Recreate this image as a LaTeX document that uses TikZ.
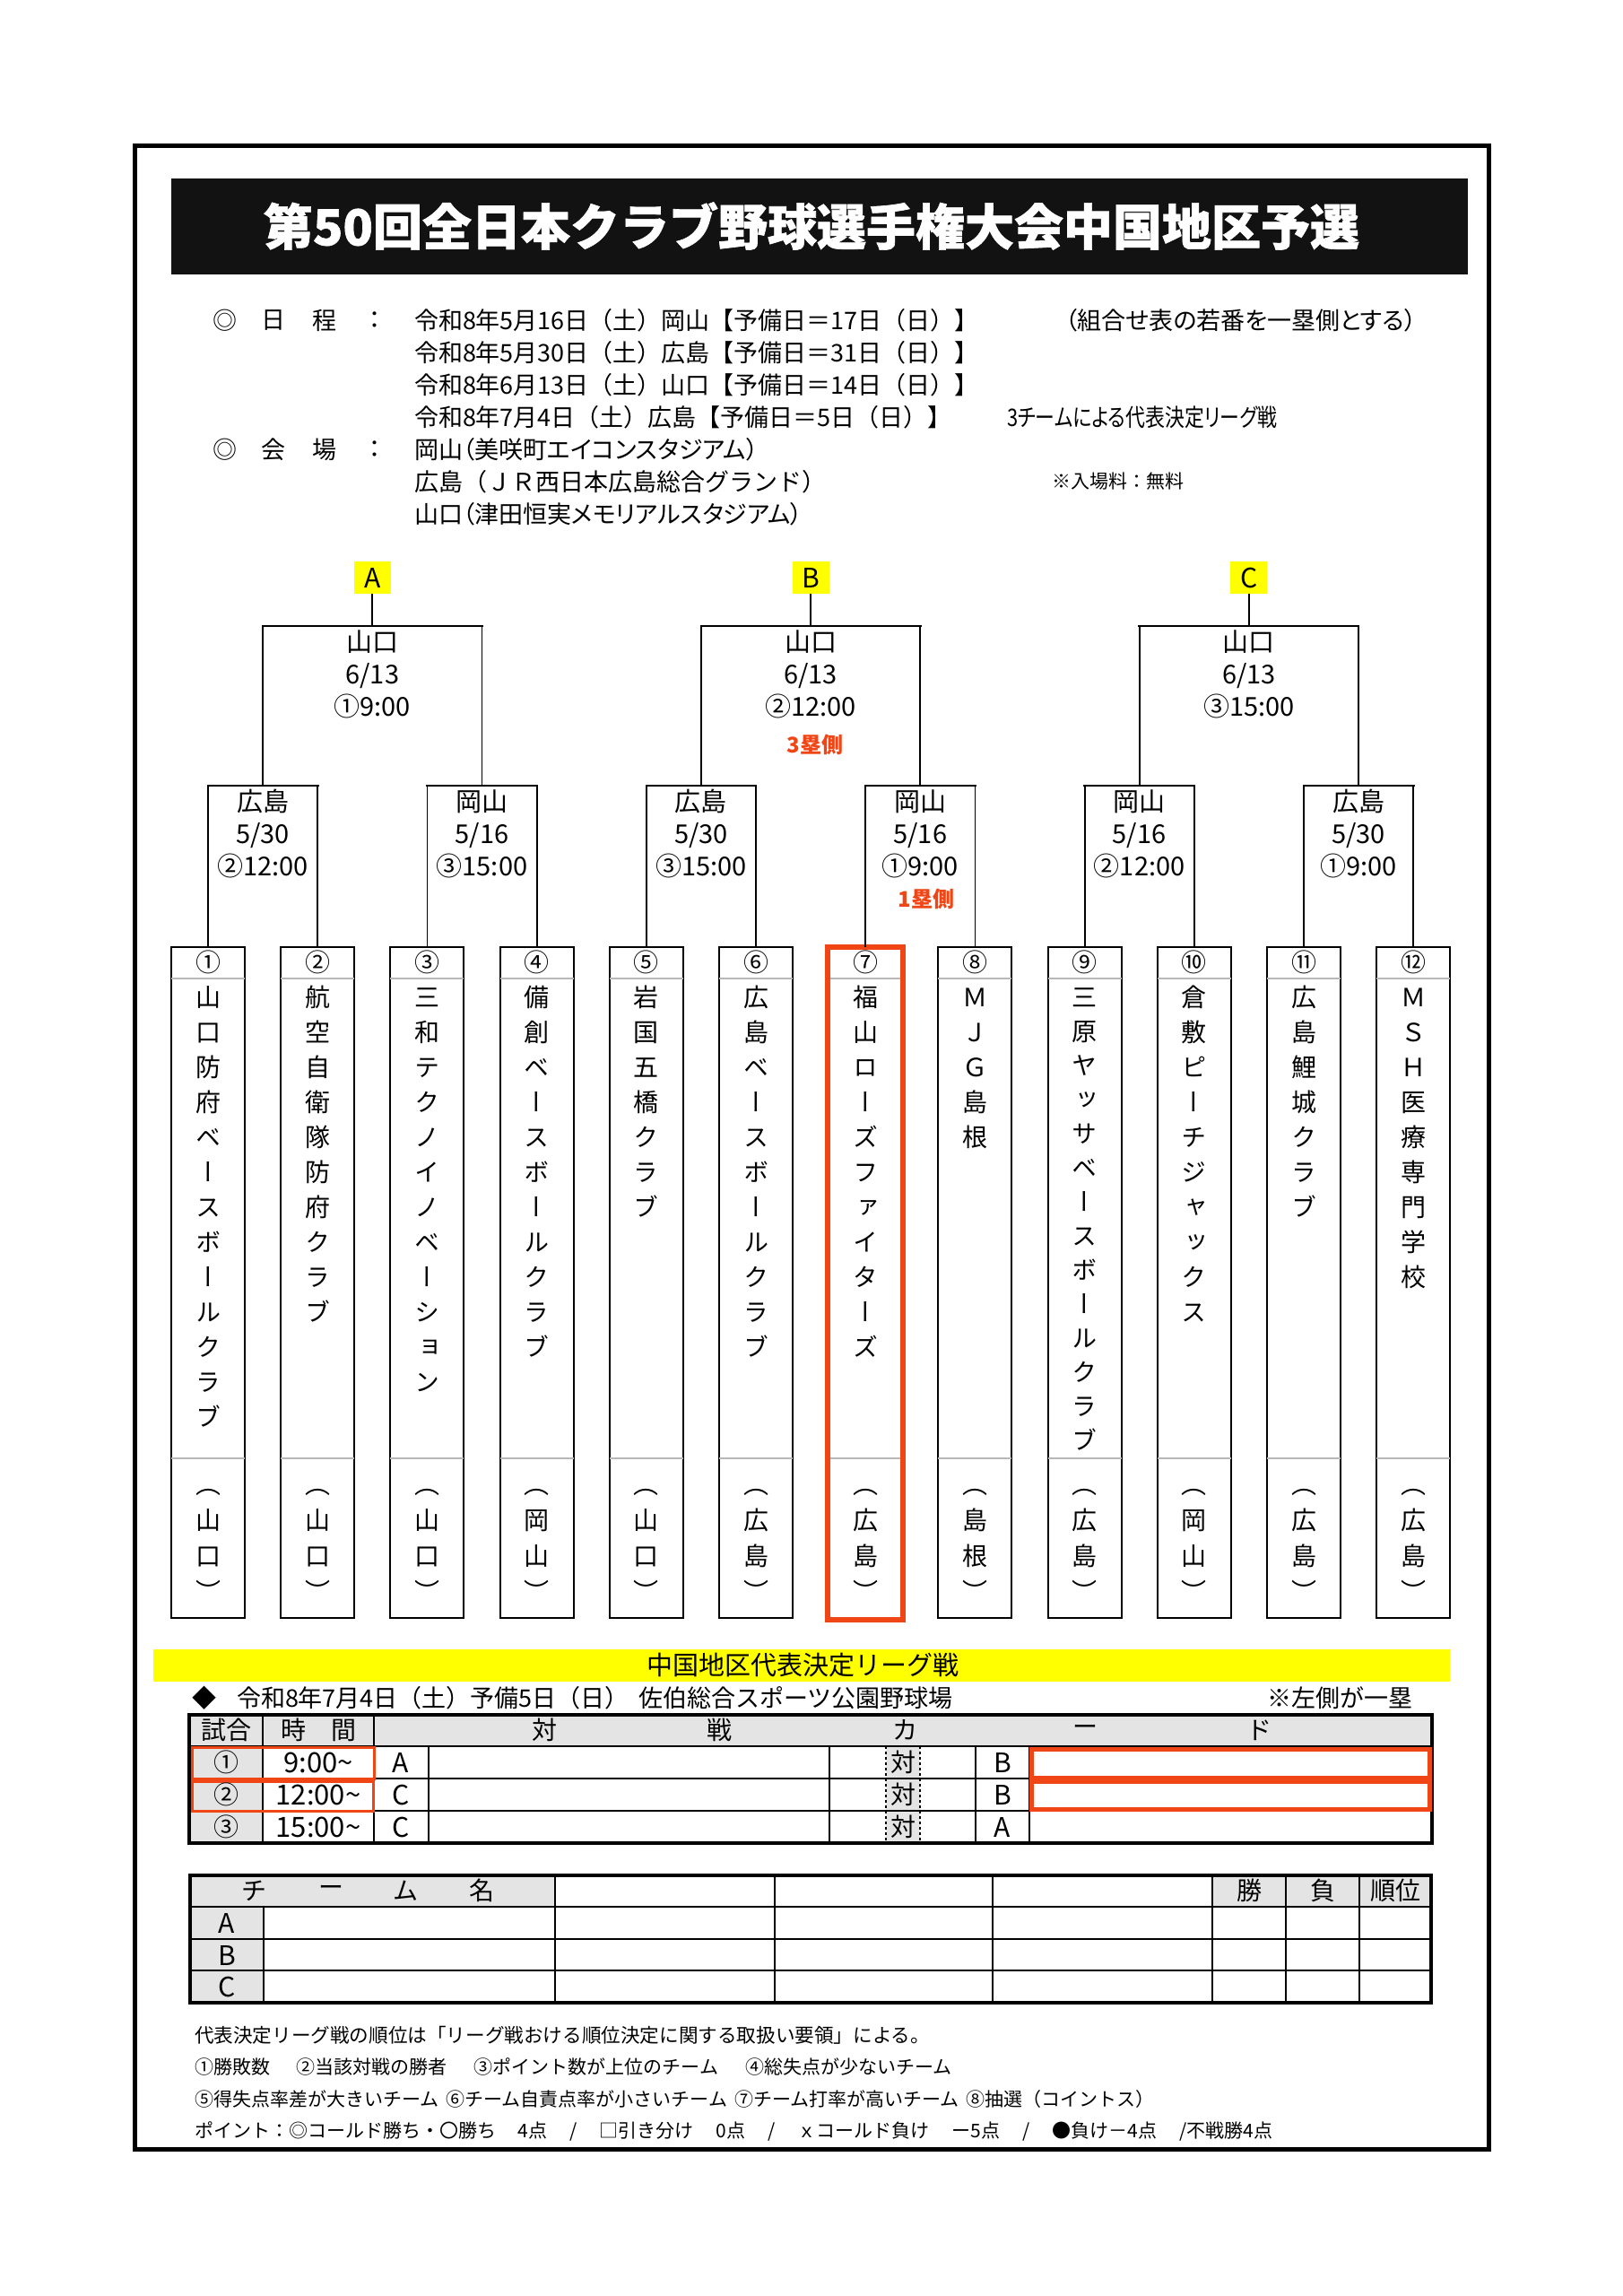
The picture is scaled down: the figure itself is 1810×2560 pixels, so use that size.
\documentclass[tikz,border=0pt]{standalone}
\usepackage{fontspec}
\setmainfont{Noto Sans CJK JP}
\newfontfamily\vjp[RawFeature=+vert]{Noto Sans CJK JP}
\newfontfamily\pjp[RawFeature=+palt]{Noto Sans CJK JP}
\newfontfamily\ttlfont[BoldFeatures={FakeBold=1.2}]{Noto Sans CJK JP}
\usetikzlibrary{calc}
\newcommand\fsz[1]{\fontsize{#1}{#1}\selectfont}
\definecolor{redo}{RGB}{240,70,22}
\definecolor{lgray}{RGB}{228,228,228}
\definecolor{yel}{RGB}{255,255,0}
\newcommand\vcol[5]{\foreach \ch [count=\k from 0] in {#5}{\node[vch] (#1-\k) at ({#2},{#3+\k*#4}) {\ch};}}
\newcommand\btx[5]{\node[btxt] (#1a) at ($(#2)+(0,17)$) {#3};\node[btxt] (#1b) at ($(#2)+(0,53)$) {#4};\node[btxt] (#1c) at ($(#2)+(0,89)$) {#5};}
\newcommand\gp{\hspace{25pt}}
\newcommand\gq{\hspace{30pt}}
\begin{document}
\begin{tikzpicture}[x=1pt,y=-1pt,
  every node/.style={inner sep=0pt,outer sep=0pt},
  txt/.style={font=\fsz{27}},
  ptxt/.style={font=\pjp\fsz{27}},
  btxt/.style={font=\fsz{29},text height=25.5pt,text depth=3.5pt},
  redtxt/.style={font=\bfseries\fsz{24},text=redo},
  lab/.style={fill=yel,minimum width=41pt,minimum height=36pt,font=\fsz{30}},
  hl/.style={line width=2.6pt,line cap=rect},
  vl/.style={line width=1.8pt},
  teambox/.style={draw,line width=2pt,minimum width=82pt,minimum height=748pt,anchor=north},
  redbox/.style={draw=redo,line width=6pt,minimum width=84pt,minimum height=750pt,anchor=north},
  sepl/.style={draw=black!28,line width=1.2pt},
  vch/.style={font=\vjp\fsz{28},text height=24.6pt,text depth=3.4pt},
  numc/.style={font=\fsz{28}},
  cell/.style={font=\fsz{28}},
  rowl/.style={line width=2.6pt},
  coll/.style={line width=1.6pt},
  note/.style={font=\fsz{21},anchor=west}]
\useasboundingbox (0,0) rectangle (1810,2560);
\fill[white] (0,0) rectangle (1810,2560);
\node[draw,line width=5pt,minimum width=1510pt,minimum height=2234pt] (frame) at (905,1279) {};
\node[fill=black!93,minimum width=1446pt,minimum height=107pt] (tbox) at (914,252) {};
\node[font=\ttlfont\bfseries\fsz{55},text=white] (title) at (905,252) {第50回全日本クラブ野球選手権大会中国地区予選};
% schedule
\foreach \nm/\x/\y/\t in {d1/251/357/◎,d2/305/357/日,d3/362/357/程,d4/418/357/：,v1/251/501/◎,v2/305/501/会,v3/362/501/場,v4/418/501/：}{\node[txt] (\nm) at (\x,\y) {\t};}
\node[txt,anchor=west] (s1) at (462,357) {令和8年5月16日（土）岡山【予備日＝17日（日）】};
\node[txt,anchor=west] (s2) at (462,393) {令和8年5月30日（土）広島【予備日＝31日（日）】};
\node[txt,anchor=west] (s3) at (462,429) {令和8年6月13日（土）山口【予備日＝14日（日）】};
\node[txt,anchor=west] (s4) at (462,465) {令和8年7月4日（土）広島【予備日＝5日（日）】};
\node[ptxt,anchor=west] (s4b) at (1123,465) {\scalebox{0.81}[1]{3チームによる代表決定リーグ戦}};
\node[ptxt,anchor=west] (s1b) at (1188,357) {（組合せ表の若番を一塁側とする）};
\node[ptxt,anchor=west] (p1) at (462,501) {岡山（美咲町エイコンスタジアム）};
\node[txt,anchor=west] (p2) at (462,537) {広島（ＪＲ西日本広島総合グランド）};
\node[ptxt,anchor=west] (p3) at (462,573) {山口（津田恒実メモリアルスタジアム）};
\node[font=\fsz{21},anchor=west] (fee) at (1173,537) {※入場料：無料};
% team boxes
\foreach \i/\c in {1/①,2/②,3/③,4/④,5/⑤,6/⑥,7/⑦,8/⑧,9/⑨,10/⑩,11/⑪,12/⑫}{
  \node[teambox] (t\i) at ({232+122.2*(\i-1)},1056) {};
  \draw[sepl] ([yshift=-35pt]t\i.north west) -- ([yshift=-35pt]t\i.north east);
  \draw[sepl] ([yshift=-570pt]t\i.north west) -- ([yshift=-570pt]t\i.north east);
  \node[numc] (n\i) at ({232+122.2*(\i-1)},1073) {\c};
}
\node[redbox] (r7) at (t7.north) {};
% team names
\vcol{a1}{232}{1112}{39}{山,口,防,府,ベ,ー,ス,ボ,ー,ル,ク,ラ,ブ}
\vcol{a2}{354.2}{1112}{39}{航,空,自,衛,隊,防,府,ク,ラ,ブ}
\vcol{a3}{476.4}{1112}{39}{三,和,テ,ク,ノ,イ,ノ,ベ,ー,シ,ョ,ン}
\vcol{a4}{598.6}{1112}{39}{備,創,ベ,ー,ス,ボ,ー,ル,ク,ラ,ブ}
\vcol{a5}{720.8}{1112}{39}{岩,国,五,橋,ク,ラ,ブ}
\vcol{a6}{843}{1112}{39}{広,島,ベ,ー,ス,ボ,ー,ル,ク,ラ,ブ}
\vcol{a7}{965.2}{1112}{39}{福,山,ロ,ー,ズ,フ,ァ,イ,タ,ー,ズ}
\vcol{a8}{1087.4}{1112}{39}{Ｍ,Ｊ,Ｇ,島,根}
\vcol{a9}{1209.6}{1112}{38}{三,原,ヤ,ッ,サ,ベ,ー,ス,ボ,ー,ル,ク,ラ,ブ}
\vcol{a10}{1331.8}{1112}{39}{倉,敷,ピ,ー,チ,ジ,ャ,ッ,ク,ス}
\vcol{a11}{1454}{1112}{39}{広,島,鯉,城,ク,ラ,ブ}
\vcol{a12}{1576.2}{1112}{39}{Ｍ,Ｓ,Ｈ,医,療,専,門,学,校}
\vcol{b1}{232}{1655}{40}{（,山,口,）}
\vcol{b2}{354.2}{1655}{40}{（,山,口,）}
\vcol{b3}{476.4}{1655}{40}{（,山,口,）}
\vcol{b4}{598.6}{1655}{40}{（,岡,山,）}
\vcol{b5}{720.8}{1655}{40}{（,山,口,）}
\vcol{b6}{843}{1655}{40}{（,広,島,）}
\vcol{b7}{965.2}{1655}{40}{（,広,島,）}
\vcol{b8}{1087.4}{1655}{40}{（,島,根,）}
\vcol{b9}{1209.6}{1655}{40}{（,広,島,）}
\vcol{b10}{1331.8}{1655}{40}{（,岡,山,）}
\vcol{b11}{1454}{1655}{40}{（,広,島,）}
\vcol{b12}{1576.2}{1655}{40}{（,広,島,）}
% lower brackets
\foreach \a/\b/\m in {1/2/1,3/4/2,5/6/3,7/8/4,9/10/5,11/12/6}{
  \coordinate (h\m) at ($(t\a.north)!0.5!(t\b.north)+(0,-180)$);
  \draw[vl] (t\a.north) -- (t\a.north |- h\m);
  \draw[vl] (t\b.north) -- (t\b.north |- h\m);
  \draw[hl] (t\a.north |- h\m) -- (t\b.north |- h\m);
}
% upper brackets
\foreach \L/\a/\b in {A/1/2,B/3/4,C/5/6}{
  \coordinate (g\L) at ($(h\a)!0.5!(h\b)+(0,-178)$);
  \node[lab] (l\L) at ($(h\a)!0.5!(h\b)+(0,-232)$) {\L};
  \draw[vl] (h\a) -- (h\a |- g\L);
  \draw[vl] (h\b) -- (h\b |- g\L);
  \draw[hl] (h\a |- g\L) -- (h\b |- g\L);
  \draw[vl] (l\L.south) -- (g\L);
}
\btx{ga}{gA}{山口}{6/13}{①9:00}
\btx{gb}{gB}{山口}{6/13}{②12:00}
\btx{gc}{gC}{山口}{6/13}{③15:00}
\btx{ha}{h1}{広島}{5/30}{②12:00}
\btx{hb}{h2}{岡山}{5/16}{③15:00}
\btx{hc}{h3}{広島}{5/30}{③15:00}
\btx{hd}{h4}{岡山}{5/16}{①9:00}
\btx{he}{h5}{岡山}{5/16}{②12:00}
\btx{hf}{h6}{広島}{5/30}{①9:00}
\node[redtxt] (r3) at (909,830) {3塁側};
\node[redtxt] (r1) at (1033,1002) {1塁側};
% league banner
\node[fill=yel,minimum width=1446pt,minimum height=36pt] (banner) at (893.5,1857) {};
\node[font=\fsz{29}] (bannert) at (895,1857) {中国地区代表決定リーグ戦};
\node[txt] (dia) at (228,1893) {◆};
\node[txt,anchor=west] (lg1) at (264,1893) {令和8年7月4日（土）予備5日（日）};
\node[txt,anchor=west] (lg2) at (712,1893) {佐伯総合スポーツ公園野球場};
\node[txt,anchor=west] (lg3) at (1413,1893) {※左側が一塁};
% match table
\fill[lgray] (211,1912) rectangle (1597,1947);
\fill[lgray] (211,1947) rectangle (293,2055);
\fill[lgray] (988,1947) rectangle (1026,2055);
\foreach \y in {1947,1983,2019} \draw[rowl] (211,\y) -- (1597,\y);
\foreach \x in {293,417} \draw[coll] (\x,1912) -- (\x,2055);
\foreach \x in {478,925,1088,1148} \draw[coll] (\x,1947) -- (\x,2055);
\foreach \x in {988,1026} \draw[coll,dashed] (\x,1947) -- (\x,2055);
\draw[line width=4pt] (211,1912) rectangle (1597,2055);
\draw[redo,line width=3pt] (214,1948) rectangle (417,1983);
\draw[redo,line width=3pt] (214,1986) rectangle (416,2019);
\draw[redo,line width=5pt] (1150,1950) rectangle (1594,1982);
\draw[redo,line width=5pt] (1150,1986) rectangle (1594,2017);
\foreach \nm/\x/\t in {m1/252/試合,m2/355/時　間,m3/607/対,m4/802/戦,m5/1009/カ,m6/1210/ー,m7/1404/ド}{\node[cell] (\nm) at (\x,1929) {\t};}
\foreach \r/\y/\n/\tm/\p/\q in {1/1965/①/9:00/A/B,2/2001/②/12:00/C/B,3/2037/③/15:00/C/A}{
  \node[cell] (rn\r) at (252,\y) {\n};
  \node[font=\fsz{31}] (rt\r) at (355,\y) {\tm\textasciitilde};
  \node[font=\fsz{30}] (rp\r) at (447,\y) {\p};
  \node[cell] (rv\r) at (1007,\y) {対};
  \node[font=\fsz{30}] (rq\r) at (1118,\y) {\q};
}
% team table
\fill[lgray] (212,2091) rectangle (619,2126);
\fill[lgray] (1352,2091) rectangle (1596,2126);
\fill[lgray] (212,2126) rectangle (294,2233);
\foreach \y in {2126,2162,2197} \draw[rowl] (212,\y) -- (1596,\y);
\draw[coll] (294,2126) -- (294,2233);
\foreach \x in {619,864,1107,1352,1434,1516} \draw[coll] (\x,2091) -- (\x,2233);
\draw[line width=4pt] (212,2091) rectangle (1596,2233);
\foreach \nm/\x/\t in {k1/283/チ,k2/369/ー,k3/452/ム,k4/537/名,k5/1393/勝,k6/1475/負,k7/1556/順位}{\node[cell] (\nm) at (\x,2108) {\t};}
\foreach \nm/\y/\t in {ka/2144/A,kb/2180/B,kc/2215/C}{\node[font=\fsz{30}] (\nm) at (253,\y) {\t};}
% notes
\node[note,font=\fsz{21.6}] (nt1) at (217,2269) {代表決定リーグ戦の順位は「リーグ戦おける順位決定に関する取扱い要領」による。};
\node[note] (nt2) at (217,2304) {①勝敗数\gq ②当該対戦の勝者\gq ③ポイント数が上位のチーム\gq ④総失点が少ないチーム};
\node[note] (nt3) at (217,2340) {⑤得失点率差が大きいチーム\hspace{8pt}⑥チーム自責点率が小さいチーム\hspace{8pt}⑦チーム打率が高いチーム\hspace{8pt}⑧抽選（コイントス）};
\node[note] (nt4) at (217,2376) {ポイント：◎コールド勝ち・〇勝ち\gp 4点\gp /\gp □引き分け\gp 0点\gp /\gp ｘコールド負け\gp ー5点\gp /\gp ●負け－4点\gp /不戦勝4点};
\end{tikzpicture}
\end{document}
